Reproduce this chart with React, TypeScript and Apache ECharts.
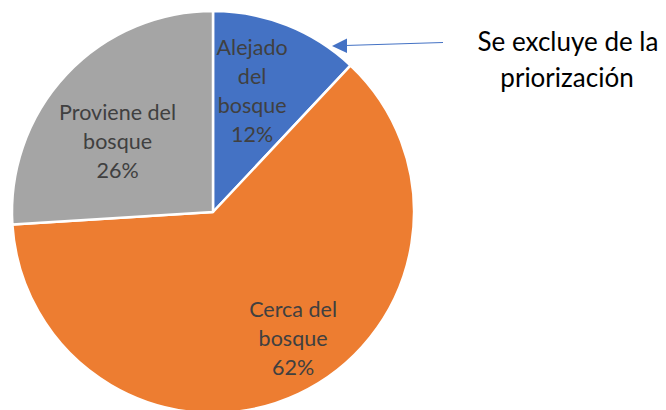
import React, { useEffect, useRef } from "react";
import * as echarts from "echarts";

const categories = ["Alejado del bosque", "Cerca del bosque", "Proviene del bosque"];
const values = [12, 62, 26];
const labelLines = [["Alejado", "del", "bosque"], ["Cerca del", "bosque"], ["Proviene del", "bosque"]];
const colors = ["#4472C4", "#ED7D31", "#A5A5A5"];
const labelShift = [[1, -25], [36, 32], [-20, 0]];
const noteLines = ["Se excluye de la", "priorización"];

export default function App() {
  const ref = useRef<HTMLDivElement>(null);
  useEffect(() => {
    if (!ref.current) return;
    const chart = echarts.init(ref.current, null, { renderer: "svg" });
    const font = "Lato, 'Open Sans', sans-serif";
    chart.setOption({
      animation: false,
      backgroundColor: "#ffffff",
      series: [
        {
          type: "pie",
          center: [213, 212],
          radius: [0, 201],
          startAngle: 90,
          clockwise: true,
          percentPrecision: 0,
          itemStyle: { borderColor: "#ffffff", borderWidth: 2.5 },
          label: {
            show: true,
            position: "inside",
            color: "#404040",
            fontFamily: font,
            fontSize: 21.5,
            lineHeight: 29,
            align: "center",
            formatter: (p: any) => labelLines[p.dataIndex].join("\n") + "\n" + p.percent + "%",
          },
          labelLine: { show: false },
          labelLayout: (p: any) => ({ dx: labelShift[p.dataIndex][0], dy: labelShift[p.dataIndex][1] }),
          emphasis: { disabled: true },
          data: categories.map((c, i) => ({ name: c, value: values[i], itemStyle: { color: colors[i] } })),
        },
      ],
      graphic: [
        {
          type: "line",
          shape: { x1: 443, y1: 42.5, x2: 345, y2: 45.5 },
          style: { stroke: "#4472C4", lineWidth: 1.2 },
        },
        {
          type: "polygon",
          shape: { points: [[332, 46], [347, 38.5], [347, 53]] },
          style: { fill: "#4472C4" },
        },
        {
          type: "text",
          x: 568,
          y: 41,
          style: {
            text: noteLines[0],
            fill: "#000000",
            font: "26px " + font,
            align: "center",
            verticalAlign: "middle",
          },
        },
        {
          type: "text",
          x: 567,
          y: 77,
          style: {
            text: noteLines[1],
            fill: "#000000",
            font: "26px " + font,
            align: "center",
            verticalAlign: "middle",
          },
        },
      ],
    });
    return () => chart.dispose();
  }, []);
  return <div ref={ref} style={{ position: "fixed", left: 0, top: 0, width: 666, height: 410 }} />;
}
